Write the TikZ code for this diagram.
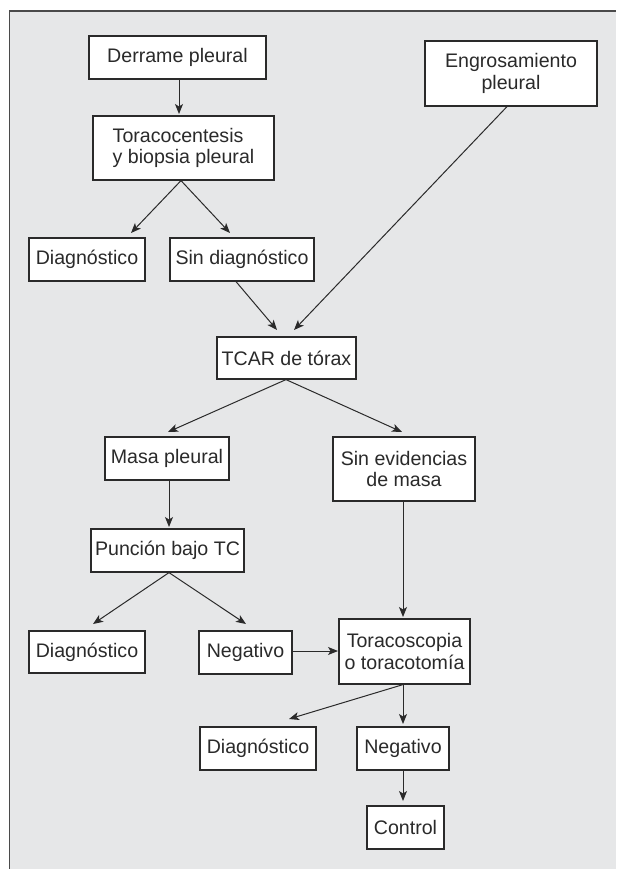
\documentclass[tikz,border=0pt]{standalone}
\usepackage{fontspec}
\setmainfont{Liberation Sans}
\usetikzlibrary{arrows.meta}
\definecolor{panel}{HTML}{E6E7E8}
\definecolor{ink}{HTML}{2A2A2A}
\definecolor{frame}{HTML}{4A4A4A}
\tikzset{
  box/.style={draw=ink, fill=white, line width=1.2pt, inner sep=0pt, align=center,
    text=ink, font=\fontsize{19.6}{21.5}\selectfont},
  arr/.style={draw=ink, line width=1pt, -{Stealth[length=10pt,width=8pt,inset=2.5pt]}},
}
\begin{document}
\begin{tikzpicture}[x=1pt,y=-1pt]
\useasboundingbox (0,0) rectangle (616,869);
\fill[panel] (9,11) rectangle (616,869);
\draw[frame, line width=1.5pt] (9.5,869) -- (9.5,11) -- (616,11);

% boxes
\node[box, minimum width=177, minimum height=43] (derrame) at (177.5,57.5) {Derrame pleural};
\node[box, minimum width=181, minimum height=64, align=left] (toraco) at (183.5,148) {Toracocentesis\\y biopsia pleural};
\node[box, minimum width=172, minimum height=65] (engros) at (511,73.5) {Engrosamiento\\pleural};
\node[box, minimum width=116, minimum height=43] (diag1) at (87,259.5) {Diagnóstico};
\node[box, minimum width=144, minimum height=43] (sindiag) at (242,259.5) {Sin diagnóstico};
\node[box, minimum width=139, minimum height=42] (tcar) at (286.5,358) {TCAR de tórax};
\node[box, minimum width=124, minimum height=43] (masa) at (167,458.5) {Masa pleural};
\node[box, minimum width=142, minimum height=64] (sinevid) at (404,469) {Sin evidencias\\de masa};
\node[box, minimum width=153, minimum height=43] (puncion) at (167.5,550.5) {Punción bajo TC};
\node[box, minimum width=116, minimum height=42] (diag2) at (87,652) {Diagnóstico};
\node[box, minimum width=93, minimum height=43] (neg1) at (245.5,652.5) {Negativo};
\node[box, minimum width=131, minimum height=65] (toracosc) at (404.5,651.5) {Toracoscopia\\o toracotomía};
\node[box, minimum width=116, minimum height=43] (diag3) at (258,748.5) {Diagnóstico};
\node[box, minimum width=92, minimum height=43] (neg2) at (403,748.5) {Negativo};
\node[box, minimum width=77, minimum height=43] (control) at (405.5,827.5) {Control};

% tip coordinates
\coordinate (t1) at (179,114);
\coordinate (s2) at (181,181);
\coordinate (t2) at (131,233);
\coordinate (t3) at (230,233);
\coordinate (s4) at (236,281);
\coordinate (t4) at (277,330);
\coordinate (s5) at (507,106);
\coordinate (t5) at (294,330);
\coordinate (s6) at (286,380);
\coordinate (t6) at (168,432);
\coordinate (t7) at (402,432);
\coordinate (t8) at (169,527);
\coordinate (s9) at (169,573);
\coordinate (t9) at (93,624);
\coordinate (t10) at (246,624);
\coordinate (t11) at (403,617);
\coordinate (t12) at (338,651);
\coordinate (s13) at (403,684);
\coordinate (t13) at (289,719);
\coordinate (t14) at (403,724);
\coordinate (t15) at (403,801);

% connectors
\draw[arr] (derrame.south -| t1) -- (t1);
\draw[arr] (toraco.south -| s2) -- (t2);
\draw[arr] (toraco.south -| s2) -- (t3);
\draw[arr] (sindiag.south -| s4) -- (t4);
\draw[arr] (engros.south -| s5) -- (t5);
\draw[arr] (tcar.south -| s6) -- (t6);
\draw[arr] (tcar.south -| s6) -- (t7);
\draw[arr] (masa.south -| t8) -- (t8);
\draw[arr] (puncion.south -| s9) -- (t9);
\draw[arr] (puncion.south -| s9) -- (t10);
\draw[arr] (sinevid.south -| t11) -- (t11);
\draw[arr] (neg1.east |- t12) -- (t12);
\draw[arr] (toracosc.south -| s13) -- (t13);
\draw[arr] (toracosc.south -| s13) -- (t14);
\draw[arr] (neg2.south -| t15) -- (t15);
\end{tikzpicture}
\end{document}
